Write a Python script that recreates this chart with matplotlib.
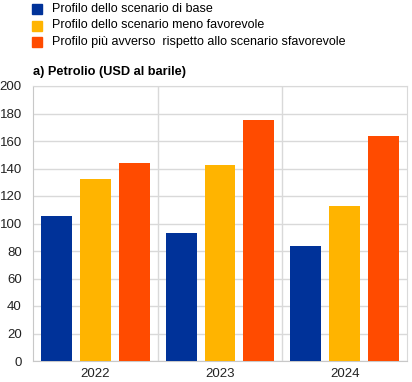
import matplotlib.pyplot as plt
import numpy as np
from matplotlib.patches import Rectangle

plt.rcParams['font.family'] = ['Liberation Sans', 'DejaVu Sans']

years = ["2022", "2023", "2024"]
series_names = ["Profilo dello scenario di base",
                "Profilo dello scenario meno favorevole",
                "Profilo più avverso  rispetto allo scenario sfavorevole"]
base = [105.5, 93, 83.5]
meno_favorevole = [132.5, 142.5, 112.5]
piu_avverso = [144, 175, 164]
colors = ["#003299", "#ffb400", "#ff4b00"]

fig = plt.figure(figsize=(4.12, 3.82), dpi=100)
ax = fig.add_axes([33 / 412, 21 / 382, 374 / 412, 275 / 382])

x = np.arange(len(years))
width = 0.248
step = 0.312
for i, (vals, col) in enumerate(zip([base, meno_favorevole, piu_avverso], colors)):
    ax.bar(x + (i - 1) * step, vals, width, color=col, zorder=3)

ax.set_xlim(-0.5, 2.5)
ax.set_ylim(0, 200)
ax.set_yticks(np.arange(0, 201, 20))
ax.set_xticks(x)
ax.set_xticklabels(years)
ax.set_xticks([0.5, 1.5], minor=True)
ax.grid(axis='y', color='#d9d9d9', lw=1, zorder=0)
ax.grid(axis='x', which='minor', color='#d9d9d9', lw=1, zorder=0)
ax.tick_params(axis='both', which='both', length=0, labelsize=9.5, colors='#222222')
ax.tick_params(axis='y', pad=8)
ax.tick_params(axis='x', pad=5)
for s in ['top', 'right']:
    ax.spines[s].set_color('#d9d9d9')
for s in ['left', 'bottom']:
    ax.spines[s].set_color('#c8c8c8')

# title
fig.text(33 / 412, 1 - 72 / 382, "a) Petrolio (USD al barile)", fontsize=9.2,
         fontweight='bold', va='center', ha='left')

# legend
for i, (name, col) in enumerate(zip(series_names, colors)):
    yc = 1 - (9 + i * 16.5) / 382
    fig.patches.append(Rectangle((32 / 412, yc - 5 / 382), 10 / 412, 10 / 382,
                                 color=col, transform=fig.transFigure))
    fig.text(52 / 412, yc, name, fontsize=9, va='center', ha='left')

fig.savefig("out.png", dpi=100)
